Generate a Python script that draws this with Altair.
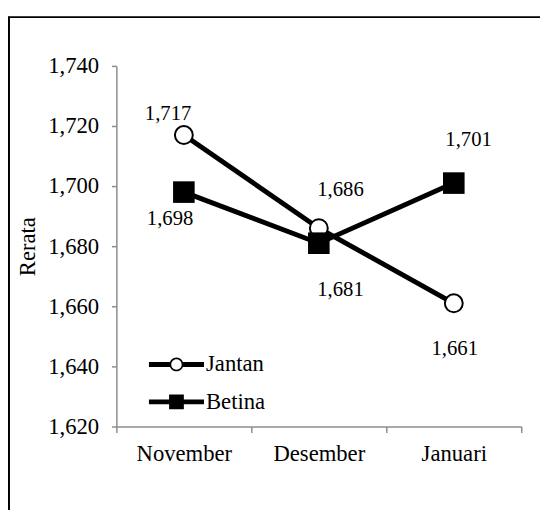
import altair as alt
import pandas as pd

months = ["November", "Desember", "Januari"]
series = ["Jantan", "Betina"]
jantan = [1.717, 1.686, 1.661]
betina = [1.698, 1.681, 1.701]
y_ticks = [1.62, 1.64, 1.66, 1.68, 1.70, 1.72, 1.74]

# label placement offsets (px), same order as the values
label_dx = {"Jantan": [-16, 22, 1], "Betina": [-14, 22, 15]}
label_dy = {"Jantan": [-21, -39, 47], "Betina": [27, 48, -44]}

rows = []
for s, vals in zip(series, [jantan, betina]):
    for m, v in zip(months, vals):
        rows.append({"month": m, "series": s, "value": v})
df = pd.DataFrame(rows)

FONT = "Liberation Serif"
GREY = "#8c8c8c"

x_enc = alt.X(
    "month:N", sort=months, bandPosition=0.5,
    scale=alt.Scale(type="band", paddingInner=0, paddingOuter=0),
    axis=alt.Axis(title=None, labelAngle=0, tickBand="extent", tickSize=6,
                  labelPadding=11, labelFontSize=23, labelFont=FONT,
                  labelColor="black", domainColor=GREY, tickColor=GREY,
                  domainWidth=1.5, tickWidth=1.5),
)
y_enc = alt.Y(
    "value:Q",
    scale=alt.Scale(domain=[1.62, 1.74], zero=False, nice=False),
    axis=alt.Axis(values=y_ticks, grid=False, tickSize=5, labelPadding=13,
                  labelFontSize=23, labelFont=FONT, labelColor="black",
                  labelExpr="replace(format(datum.value, '.3f'), '.', ',')",
                  domainColor=GREY, tickColor=GREY, domainWidth=1.5, tickWidth=1.5,
                  title="Rerata", titleFont=FONT, titleFontSize=23,
                  titleFontWeight="normal", titleColor="black", titlePadding=8),
)

base = alt.Chart(df).encode(x=x_enc, y=y_enc)

lines = base.mark_line(color="black", strokeWidth=5, opacity=1).encode(detail="series:N")

circles = base.transform_filter(alt.datum.series == "Jantan").mark_point(
    shape="circle", filled=True, fill="white", stroke="black", strokeWidth=2,
    size=330, opacity=1)
squares = base.transform_filter(alt.datum.series == "Betina").mark_point(
    shape="square", filled=True, color="black", size=480, opacity=1)

texts = []
for s in series:
    for i, m in enumerate(months):
        texts.append(
            base.transform_filter((alt.datum.series == s) & (alt.datum.month == m))
            .transform_calculate(label="replace(format(datum.value, '.3f'), '.', ',')")
            .mark_text(font=FONT, fontSize=21, color="black", align="center",
                       baseline="middle", dx=label_dx[s][i], dy=label_dy[s][i])
            .encode(text="label:N")
        )

path_j = ("M-2.5,-0.224H-0.6V0.224H-2.5Z "
          "M0.6,-0.224H2.5V0.224H0.6Z "
          "M0.626,0A0.626,0.626 0 1,1 -0.626,0A0.626,0.626 0 1,1 0.626,0Z "
          "M0.474,0A0.474,0.474 0 1,0 -0.474,0A0.474,0.474 0 1,0 0.474,0Z")
path_b = ("M-2.5,-0.224H2.5V0.224H-2.5Z "
          "M-0.67,-0.67H0.67V0.67H-0.67Z")

legend_layer = base.transform_filter("false").mark_point(
    filled=True, color="black", opacity=1, size=500).encode(
    shape=alt.Shape("series:N",
                    scale=alt.Scale(domain=series, range=[path_j, path_b]),
                    legend=alt.Legend(title=None, orient="none", legendX=49.5,
                                      legendY=291.5, padding=0, rowPadding=14,
                                      labelFont=FONT, labelFontSize=23,
                                      labelColor="black", labelOffset=18.5,
                                      symbolSize=500, symbolStrokeWidth=0,
                                      symbolFillColor="black", symbolOpacity=1))
)

frame_df = pd.DataFrame({"k": [0]})
frame_left = alt.Chart(frame_df).mark_rule(color="black", strokeWidth=2).encode(
    x=alt.value(-109), y=alt.value(-50), y2=alt.value(460))
frame_top = alt.Chart(frame_df).mark_rule(color="black", strokeWidth=2).encode(
    x=alt.value(-110), x2=alt.value(440), y=alt.value(-49.5))

chart = alt.layer(lines, circles, squares, *texts, legend_layer, frame_left, frame_top).properties(
    width=411, height=366,
    autosize=alt.AutoSizeParams(type="none"),
    padding={"left": 110, "top": 55, "right": 19, "bottom": 81},
    background="white",
).configure_view(stroke=None)

chart.save("out.html", embed_options={"renderer": "svg", "actions": False})
